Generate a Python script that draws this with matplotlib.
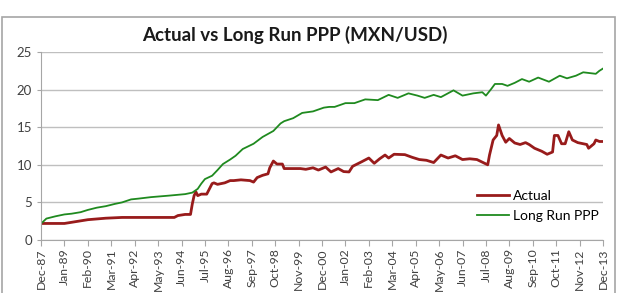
import matplotlib
matplotlib.use('Agg')
import matplotlib.pyplot as plt
from matplotlib.patches import Rectangle

# ── Data (month index counted from Dec-87) ───────────────────────────────────
tick_labels = ['Dec-87', 'Jan-89', 'Feb-90', 'Mar-91', 'Apr-92', 'May-93', 'Jun-94',
               'Jul-95', 'Aug-96', 'Sep-97', 'Oct-98', 'Nov-99', 'Dec-00', 'Jan-02',
               'Feb-03', 'Mar-04', 'Apr-05', 'May-06', 'Jun-07', 'Jul-08', 'Aug-09',
               'Sep-10', 'Oct-11', 'Nov-12', 'Dec-13']

actual_month = [0, 13, 26, 36, 45, 54, 74, 76, 80, 83, 84, 85, 86, 87, 89, 92, 95, 96,
                98, 102, 105, 107, 111, 116, 118, 120, 123, 126, 127, 129, 131, 134,
                135, 138, 144, 147, 151, 154, 158, 161, 165, 168, 171, 173, 178, 182,
                185, 188, 191, 193, 196, 202, 206, 210, 214, 218, 222, 226, 230, 234,
                238, 242, 248, 249, 251, 253, 254, 256, 258, 260, 263, 266, 269, 271,
                274, 278, 281, 284, 285, 287, 289, 291, 293, 295, 298, 303, 304, 307,
                308, 310, 312]
actual_val = [2.2, 2.2, 2.7, 2.9, 3.0, 3.0, 3.0, 3.25, 3.4, 3.4, 4.8, 5.9, 6.4, 5.9,
              6.1, 6.1, 7.5, 7.6, 7.4, 7.6, 7.9, 7.9, 8.0, 7.9, 7.7, 8.3, 8.6, 8.8,
              9.6, 10.5, 10.1, 10.1, 9.5, 9.5, 9.5, 9.4, 9.6, 9.3, 9.7, 9.05, 9.5,
              9.1, 9.05, 9.8, 10.4, 10.9, 10.2, 10.8, 11.3, 10.9, 11.4, 11.35, 11.0,
              10.7, 10.6, 10.3, 11.3, 10.9, 11.2, 10.7, 10.8, 10.7, 10.0, 11.3, 13.3,
              13.9, 15.3, 13.9, 13.0, 13.5, 12.9, 12.7, 12.95, 12.7, 12.2, 11.8, 11.4,
              11.7, 13.9, 13.9, 12.8, 12.8, 14.4, 13.3, 12.95, 12.7, 12.2, 12.8, 13.3,
              13.1, 13.1]

ppp_month = [0, 1, 3, 8, 13, 17, 22, 26, 31, 36, 41, 45, 50, 54, 61, 71, 80, 84, 87,
             89, 91, 95, 98, 101, 105, 108, 112, 118, 123, 129, 133, 135, 140, 145,
             151, 157, 160, 163, 169, 174, 180, 187, 193, 198, 204, 209, 213, 218,
             222, 229, 234, 240, 245, 247, 250, 252, 256, 259, 263, 267, 271, 276,
             282, 288, 292, 297, 301, 308, 310, 312]
ppp_val = [2.2, 2.4, 2.85, 3.15, 3.4, 3.5, 3.7, 4.0, 4.3, 4.5, 4.8, 5.0, 5.4, 5.5,
           5.7, 5.9, 6.1, 6.3, 6.8, 7.5, 8.1, 8.55, 9.3, 10.1, 10.7, 11.2, 12.1, 12.8,
           13.7, 14.5, 15.5, 15.8, 16.2, 16.9, 17.1, 17.6, 17.7, 17.7, 18.2, 18.2,
           18.7, 18.6, 19.3, 18.9, 19.5, 19.2, 18.9, 19.3, 19.0, 19.9, 19.2, 19.5,
           19.65, 19.2, 20.1, 20.75, 20.75, 20.5, 20.9, 21.4, 21.05, 21.6, 21.05,
           21.85, 21.5, 21.85, 22.3, 22.1, 22.5, 22.8]

# ── Figure ────────────────────────────────────────────────────────────────────
plt.rcParams['font.family'] = ['Lato', 'DejaVu Sans']
fig = plt.figure(figsize=(6.19, 2.93), dpi=100)
fig.patches.append(Rectangle((0.004, -0.01), 0.99, 0.952, transform=fig.transFigure,
                             fill=False, edgecolor='#A6A6A6', linewidth=1.2))

ax = fig.add_axes([41 / 619, 1 - 240 / 293, 562 / 619, 188 / 293])
ax.plot(actual_month, actual_val, color='#981B1B', lw=2.0, label='Actual')
ax.plot(ppp_month, ppp_val, color='#1F8A1F', lw=1.3, label='Long Run PPP')

ax.set_xlim(0, 312)
ax.set_ylim(0, 25)
ax.set_yticks([0, 5, 10, 15, 20, 25])
ax.set_xticks(range(0, 313, 13))
ax.set_xticklabels(tick_labels, rotation=90, fontsize=8.8, color='#404040')
ax.tick_params(axis='y', labelsize=9.5, colors='#404040', length=3, color='#A6A6A6')
ax.tick_params(axis='x', length=4, color='#A6A6A6', pad=2)
ax.grid(axis='y', color='#BFBFBF', lw=1.0)
ax.set_axisbelow(True)
for s in ['top', 'right']:
    ax.spines[s].set_visible(False)
for s in ['left', 'bottom']:
    ax.spines[s].set_color('#A6A6A6')

fig.text(295 / 619, 1 - 35 / 293, 'Actual vs Long Run PPP (MXN/USD)', ha='center',
         va='center', fontsize=13.5, fontweight='bold', color='#1a1a1a')

ax.legend(loc='upper left', bbox_to_anchor=(470 / 619, 1 - 183 / 293),
          bbox_transform=fig.transFigure, frameon=False, fontsize=10,
          handlelength=2.3, handletextpad=0.3, labelspacing=0.55, borderpad=0)

fig.savefig('out.png', dpi=100)
